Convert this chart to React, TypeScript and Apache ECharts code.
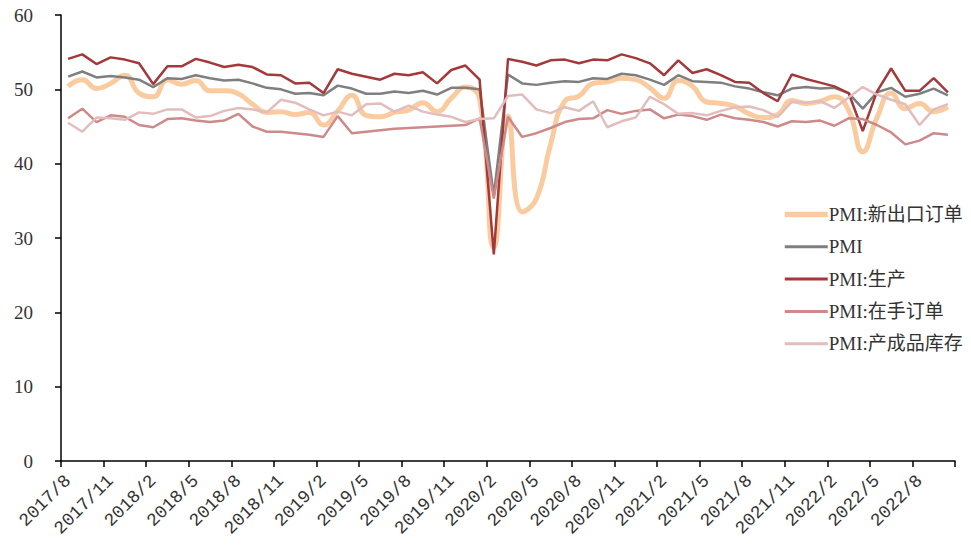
import React, { useEffect, useRef } from "react";
import * as echarts from "echarts";

const categories = [
  "2017/8", "2017/9", "2017/10", "2017/11", "2017/12",
  "2018/1", "2018/2", "2018/3", "2018/4", "2018/5", "2018/6", "2018/7", "2018/8", "2018/9", "2018/10", "2018/11", "2018/12",
  "2019/1", "2019/2", "2019/3", "2019/4", "2019/5", "2019/6", "2019/7", "2019/8", "2019/9", "2019/10", "2019/11", "2019/12",
  "2020/1", "2020/2", "2020/3", "2020/4", "2020/5", "2020/6", "2020/7", "2020/8", "2020/9", "2020/10", "2020/11", "2020/12",
  "2021/1", "2021/2", "2021/3", "2021/4", "2021/5", "2021/6", "2021/7", "2021/8", "2021/9", "2021/10", "2021/11", "2021/12",
  "2022/1", "2022/2", "2022/3", "2022/4", "2022/5", "2022/6", "2022/7", "2022/8", "2022/9", "2022/10",
];

const newExportOrders = [
  50.4, 51.3, 50.1, 50.8, 51.9,
  49.5, 49.0, 51.3, 50.7, 51.2, 49.8, 49.8, 49.4, 48.0, 46.9, 47.0, 46.6,
  46.9, 45.2, 47.1, 49.2, 46.5, 46.3, 46.9, 47.2, 48.2, 47.0, 48.8, 50.3,
  48.7, 28.7, 46.4, 33.5, 35.3, 42.6, 48.4, 49.1, 50.8, 51.0, 51.5, 51.3,
  50.2, 48.8, 51.2, 50.4, 48.3, 48.1, 47.7, 46.7, 46.2, 46.6, 48.5, 48.1,
  48.4, 49.0, 47.2, 41.6, 46.2, 49.5, 47.4, 48.1, 47.0, 47.6,
];

const pmi = [
  51.7, 52.4, 51.6, 51.8, 51.6,
  51.3, 50.3, 51.5, 51.4, 51.9, 51.5, 51.2, 51.3, 50.8, 50.2, 50.0, 49.4,
  49.5, 49.2, 50.5, 50.1, 49.4, 49.4, 49.7, 49.5, 49.8, 49.3, 50.2, 50.2,
  50.0, 35.7, 52.0, 50.8, 50.6, 50.9, 51.1, 51.0, 51.5, 51.4, 52.1, 51.9,
  51.3, 50.6, 51.9, 51.1, 51.0, 50.9, 50.4, 50.1, 49.6, 49.2, 50.1, 50.3,
  50.1, 50.2, 49.5, 47.4, 49.6, 50.2, 49.0, 49.4, 50.1, 49.2,
];

const production = [
  54.1, 54.7, 53.4, 54.3, 54.0,
  53.5, 50.7, 53.1, 53.1, 54.1, 53.6, 53.0, 53.3, 53.0, 52.0, 51.9, 50.8,
  50.9, 49.5, 52.7, 52.1, 51.7, 51.3, 52.1, 51.9, 52.3, 50.8, 52.6, 53.2,
  51.3, 27.8, 54.1, 53.7, 53.2, 53.9, 54.0, 53.5, 54.0, 53.9, 54.7, 54.2,
  53.5, 51.9, 53.9, 52.2, 52.7, 51.9, 51.0, 50.9, 49.5, 48.4, 52.0, 51.4,
  50.9, 50.4, 49.5, 44.4, 49.7, 52.8, 49.8, 49.8, 51.5, 49.6,
];

const backlogOrders = [
  46.1, 47.4, 45.6, 46.5, 46.3,
  45.2, 44.9, 46.0, 46.1, 45.8, 45.6, 45.8, 46.7, 45.0, 44.3, 44.3, 44.1,
  43.9, 43.6, 46.4, 44.1, 44.3, 44.5, 44.7, 44.8, 44.9, 45.0, 45.1, 45.2,
  46.1, 35.3, 46.3, 43.6, 44.1, 44.8, 45.6, 46.0, 46.1, 47.2, 46.7, 47.1,
  47.3, 46.1, 46.6, 46.4, 45.9, 46.6, 46.1, 45.9, 45.6, 45.0, 45.7, 45.6,
  45.8, 45.1, 46.1, 46.0, 45.2, 44.2, 42.6, 43.1, 44.1, 43.9,
];

const finishedInventory = [
  45.5, 44.3, 46.2, 46.1, 45.9,
  46.9, 46.7, 47.3, 47.3, 46.2, 46.4, 47.1, 47.5, 47.3, 46.9, 48.6, 48.2,
  47.3, 46.5, 47.0, 46.5, 48.0, 48.1, 47.0, 47.8, 47.0, 46.6, 46.3, 45.6,
  46.0, 46.1, 49.1, 49.3, 47.3, 46.8, 47.6, 47.1, 48.4, 44.9, 45.7, 46.2,
  49.0, 48.0, 46.7, 46.8, 46.5, 47.1, 47.6, 47.7, 47.2, 46.3, 48.3, 48.2,
  48.4, 47.5, 48.9, 50.3, 49.3, 48.6, 48.0, 45.2, 47.3, 48.0,
];

const seriesNames = ["PMI:新出口订单", "PMI", "PMI:生产", "PMI:在手订单", "PMI:产成品库存"];
const seriesColors = ["#FBCBA0", "#7F7F7F", "#A3393A", "#CE8A8A", "#E2BDBD"];
const seriesWidths = [5, 2.5, 2.5, 2.5, 2.5];
const legendWidths = [5.5, 3, 3, 3, 3];
const seriesSmooth = [true, false, false, false, false];
const seriesData = [newExportOrders, pmi, production, backlogOrders, finishedInventory];

const yTicks = { min: 0, max: 60, interval: 10 };

const FONT = "'Liberation Serif', 'Noto Sans CJK SC', serif";
const XFONT = "'Liberation Mono', 'Liberation Serif', monospace";

export default function App() {
  const ref = useRef<HTMLDivElement>(null);
  useEffect(() => {
    if (!ref.current) return;
    const chart = echarts.init(ref.current, undefined, { renderer: "svg" });
    chart.setOption({
      animation: false,
      backgroundColor: "#ffffff",
      grid: { left: 61, right: 16, top: 15, bottom: 84, containLabel: false },
      legend: {
        orient: "vertical",
        left: 782,
        top: 205,
        itemWidth: 43,
        itemHeight: 18,
        itemGap: 13.3,
        padding: 0,
        data: seriesNames.map((name, i) => ({
          name,
          lineStyle: { width: legendWidths[i], color: seriesColors[i] },
        })),
        itemStyle: { opacity: 0 },
        textStyle: { fontFamily: FONT, fontSize: 19, color: "#333", padding: [0, 0, 0, -4] },
      },
      xAxis: {
        type: "category",
        data: categories,
        boundaryGap: true,
        axisLine: { show: true, lineStyle: { color: "#000", width: 1.5 } },
        axisTick: { show: true, interval: 2, length: 6, lineStyle: { color: "#000", width: 1.5 } },
        axisLabel: {
          interval: 2,
          rotate: 45,
          fontFamily: XFONT,
          fontSize: 18,
          color: "#333",
          margin: 17,
        },
        splitLine: { show: false },
      },
      yAxis: {
        type: "value",
        min: yTicks.min,
        max: yTicks.max,
        interval: yTicks.interval,
        axisLine: { show: true, lineStyle: { color: "#000", width: 1.5 } },
        axisTick: { show: true, length: 6, lineStyle: { color: "#000", width: 1.5 } },
        axisLabel: { fontFamily: FONT, fontSize: 19, color: "#333", margin: 28 },
        splitLine: { show: false },
      },
      series: seriesNames.map((name, i) => ({
        name,
        type: "line",
        data: seriesData[i],
        symbol: "none",
        showSymbol: false,
        smooth: seriesSmooth[i],
        lineStyle: { color: seriesColors[i], width: seriesWidths[i] },
        itemStyle: { color: seriesColors[i] },
      })),
    });
    return () => chart.dispose();
  }, []);
  return (
    <div
      ref={ref}
      style={{ position: "fixed", left: 0, top: 0, width: 971, height: 545, background: "#fff" }}
    />
  );
}
